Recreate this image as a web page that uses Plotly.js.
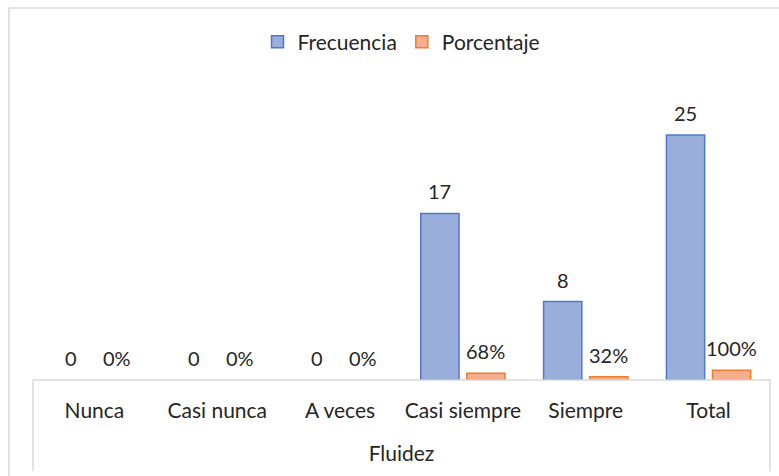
<!DOCTYPE html>
<html>
<head>
<meta charset="utf-8">
<script src="https://cdn.plot.ly/plotly-3.0.1.min.js"></script>
<style>html,body{margin:0;padding:0;background:#fff;}#chart{width:779px;height:476px;}</style>
</head>
<body>
<div id="chart"></div>
<script>
const categories = ["Nunca", "Casi nunca", "A veces", "Casi siempre", "Siempre", "Total"];
const frecuencia = [0, 0, 0, 17, 8, 25];
const porcentaje = [0, 0, 0, 0.68, 0.32, 1.0];
const seriesNames = ["Frecuencia", "Porcentaje"];
const axisTitle = "Fluidez";

const FONT = "Lato, 'Open Sans', sans-serif";
const TXT = "#262626";
const BLUE = {fill: "#9aaedb", line: "#4f78cc"};
const ORANGE = {fill: "#f6ae8c", line: "#ed7d31"};

const traces = [
  {
    type: "bar", name: seriesNames[0], x: categories, y: frecuencia, showlegend: false,
    marker: {color: BLUE.fill, line: {color: BLUE.line, width: frecuencia.map(v => v === 0 ? 0 : 1.5)}},
    hoverinfo: "none"
  },
  {
    type: "bar", name: seriesNames[1], x: categories, y: porcentaje, showlegend: false,
    marker: {color: ORANGE.fill, line: {color: ORANGE.line, width: porcentaje.map(v => v === 0 ? 0 : 1.5)}},
    hoverinfo: "none"
  },
  // legend entries (on a hidden overlay axis, no visible marks)
  {
    type: "bar", name: seriesNames[0], x: [categories[0]], y: [null], xaxis: "x2", yaxis: "y2",
    marker: {color: BLUE.fill, line: {color: BLUE.line, width: 1.5}}, hoverinfo: "none"
  },
  {
    type: "bar", name: seriesNames[1], x: [categories[0]], y: [null], xaxis: "x2", yaxis: "y2",
    marker: {color: ORANGE.fill, line: {color: ORANGE.line, width: 1.5}}, hoverinfo: "none"
  }
];

const annotations = [];
categories.forEach((c, i) => {
  annotations.push({x: c, y: frecuencia[i], xref: "x", yref: "y", text: String(frecuencia[i]),
    showarrow: false, xshift: -23, yshift: 8, yanchor: "bottom",
    font: {family: FONT, size: 20, color: TXT}});
  annotations.push({x: c, y: porcentaje[i], xref: "x", yref: "y", text: Math.round(porcentaje[i] * 100) + "%",
    showarrow: false, xshift: 23, yshift: 8, yanchor: "bottom",
    font: {family: FONT, size: 20, color: TXT}});
});

const grey = "#d9d9d9";
const shapes = [
  {type: "line", xref: "paper", yref: "paper", x0: 0, x1: 1, y0: 0, y1: 0, line: {color: grey, width: 1.5}},
  {type: "line", xref: "paper", yref: "paper", x0: 0, x1: 0, y0: 0, y1: -0.285, line: {color: grey, width: 1.5}},
  {type: "line", xref: "paper", yref: "paper", x0: 1, x1: 1, y0: 0, y1: -0.285, line: {color: grey, width: 1.5}},
  {type: "line", xref: "paper", yref: "paper", x0: -0.0326, x1: 1.05, y0: 1.1625, y1: 1.1625, line: {color: grey, width: 1.5}},
  {type: "line", xref: "paper", yref: "paper", x0: -0.0326, x1: -0.0326, y0: 1.1625, y1: -0.4, line: {color: grey, width: 1.5}}
];

const layout = {
  width: 779, height: 476,
  margin: {l: 33, r: 9, t: 60, b: 96},
  paper_bgcolor: "#fff", plot_bgcolor: "#fff",
  font: {family: FONT, color: TXT, size: 20},
  barmode: "group", bargap: 0.25, bargroupgap: 0.17,
  showlegend: true,
  legend: {orientation: "h", x: 0.5, xanchor: "center", y: 1.056, yanchor: "middle",
    font: {family: FONT, size: 21, color: TXT}, itemwidth: 30, traceorder: "normal"},
  xaxis: {
    type: "category", showline: false, showgrid: false, zeroline: false,
    ticks: "outside", ticklen: 12, tickcolor: "rgba(0,0,0,0)",
    tickfont: {family: FONT, size: 21, color: TXT},
    title: {text: axisTitle, font: {family: FONT, size: 21, color: TXT}, standoff: 25}
  },
  yaxis: {range: [0, 32.65], visible: false, showgrid: false, zeroline: false, fixedrange: true},
  xaxis2: {overlaying: "x", visible: false, type: "category", range: [5, 6], fixedrange: true},
  yaxis2: {overlaying: "y", visible: false, range: [0, 1], fixedrange: true},
  annotations: annotations,
  shapes: shapes
};

Plotly.newPlot("chart", traces, layout, {staticPlot: true, displayModeBar: false});
</script>
</body>
</html>
